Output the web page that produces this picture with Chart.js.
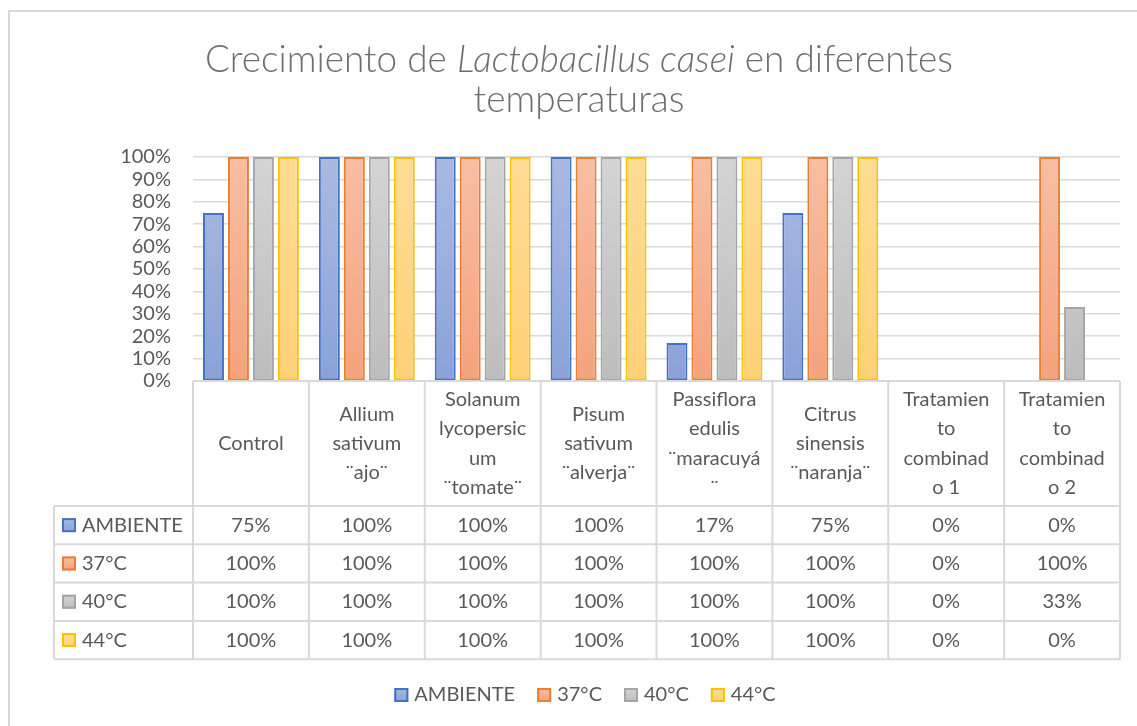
<!DOCTYPE html>
<html><head><meta charset="utf-8">
<script src="https://cdn.jsdelivr.net/npm/chart.js@4.4.0/dist/chart.umd.min.js"></script>
<style>html,body{margin:0;padding:0;background:#fff;}#wrap{width:1137px;height:726px;position:relative;}</style>
</head><body><div id="wrap"><canvas id="c" width="1137" height="726"></canvas></div>
<script>
const categories = [
  ["Control"],
  ["Allium","sativum","¨ajo¨"],
  ["Solanum","lycopersic","um","¨tomate¨"],
  ["Pisum","sativum","¨alverja¨"],
  ["Passiflora","edulis","¨maracuyá","¨"],
  ["Citrus","sinensis","¨naranja¨"],
  ["Tratamien","to","combinad","o 1"],
  ["Tratamien","to","combinad","o 2"]
];
const seriesNames = ["AMBIENTE","37°C","40°C","44°C"];
const ambiente = [75,100,100,100,17,75,0,0];
const t37 = [100,100,100,100,100,100,0,100];
const t40 = [100,100,100,100,100,100,0,33];
const t44 = [100,100,100,100,100,100,0,0];
const yTicks = [0,10,20,30,40,50,60,70,80,90,100];
const titleParts = [["Crecimiento de ",false],["Lactobacillus casei",true],[" en diferentes",false]];
const titleLine2 = "temperaturas";

const FONT = 'Lato, "Open Sans", sans-serif';
const TXT = '#595959';
const GRID = '#D9D9D9';
const styles = [
  {border:'#4472C4', top:'#AAB9E2', bot:'#8AA2D9'},
  {border:'#ED7D31', top:'#F8BEA3', bot:'#F4A37D'},
  {border:'#A5A5A5', top:'#D4D4D4', bot:'#BDBDBD'},
  {border:'#FFC000', top:'#FFDC95', bot:'#FFD177'}
];
const seriesData = [ambiente,t37,t40,t44];

function grad(ctx, s, y0, y1){
  const g = ctx.createLinearGradient(0, y0, 0, y1);
  g.addColorStop(0, s.top); g.addColorStop(1, s.bot);
  return g;
}

const datasets = seriesNames.map((n,i)=>({
  label:n,
  data:seriesData[i],
  borderColor:styles[i].border,
  borderWidth:(c)=> (c.raw===0?0:2),
  borderSkipped:false,
  backgroundColor:(c)=>{
    const a=c.chart.chartArea; if(!a) return styles[i].top;
    return grad(c.chart.ctx,styles[i],a.top,a.bottom);
  },
  categoryPercentage:0.862,
  barPercentage:0.84
}));

const drawPlugin = {
  id:'extras',
  afterDraw(chart){
    const ctx = chart.ctx, a = chart.chartArea, xs = chart.scales.x;
    ctx.save();
    ctx.strokeStyle = GRID; ctx.lineWidth = 2;
    ctx.beginPath(); ctx.moveTo(9,760); ctx.lineTo(9,11); ctx.lineTo(1160,11); ctx.stroke();

    // title
    const cx = 579;
    let size = 32;
    const fontFor = (it,sz)=> (it?'italic ':'') + '300 ' + sz + 'px ' + FONT;
    let w = 0;
    titleParts.forEach(p=>{ctx.font = fontFor(p[1],size); w += ctx.measureText(p[0]).width;});
    size = size * 748 / w;
    w = 0;
    titleParts.forEach(p=>{ctx.font = fontFor(p[1],size); w += ctx.measureText(p[0]).width;});
    ctx.fillStyle = '#6E6E6E'; ctx.textBaseline = 'alphabetic'; ctx.textAlign = 'left';
    let x = cx - w/2;
    titleParts.forEach(p=>{ctx.font = fontFor(p[1],size); ctx.fillText(p[0],x,72); x += ctx.measureText(p[0]).width;});
    ctx.font = fontFor(false,size); ctx.textAlign='center';
    ctx.fillText(titleLine2, cx, 112);

    // table
    const colW = (a.right - a.left)/categories.length;
    const top = a.bottom, headBot = 506, rowH = 38.3, labelLeft = 54;
    const rowsY = [headBot, headBot+rowH, headBot+2*rowH, headBot+3*rowH, headBot+4*rowH];
    ctx.strokeStyle = GRID; ctx.lineWidth = 2;
    ctx.beginPath();
    ctx.moveTo(a.left, top); ctx.lineTo(a.right, top);
    rowsY.forEach(y=>{ctx.moveTo(labelLeft,y); ctx.lineTo(a.right,y);});
    ctx.moveTo(labelLeft, headBot); ctx.lineTo(labelLeft, rowsY[4]);
    for(let i=0;i<=categories.length;i++){
      const xx = a.left + i*colW;
      ctx.moveTo(xx, top); ctx.lineTo(xx, rowsY[4]);
    }
    ctx.stroke();

    ctx.fillStyle = TXT; ctx.font = '20px ' + FONT; ctx.textAlign='center'; ctx.textBaseline='middle';
    const lh = 29.3;
    categories.forEach((lines,i)=>{
      const xc = xs.getPixelForValue(i);
      const mid = (top+headBot)/2;
      const y0 = mid - (lines.length-1)*lh/2;
      lines.forEach((t,j)=> ctx.fillText(t, xc, y0 + j*lh));
    });
    seriesData.forEach((arr,r)=>{
      const yc = rowsY[r] + rowH/2;
      arr.forEach((v,i)=>{ ctx.fillText(v+'%', xs.getPixelForValue(i), yc); });
      drawMarker(ctx, 62, yc-7, styles[r]);
      ctx.fillStyle = TXT;
      ctx.textAlign='left';
      ctx.fillText(seriesNames[r], 82, yc);
      ctx.textAlign='center';
    });

    // legend
    ctx.font = '20px ' + FONT; ctx.textAlign='left';
    const gap = 22, box = 14, bgap = 6;
    const widths = seriesNames.map(n=> box + bgap + ctx.measureText(n).width);
    const total = widths.reduce((s,v)=>s+v,0) + gap*(seriesNames.length-1);
    let lx = 585 - total/2;
    const ly = 695;
    seriesNames.forEach((n,i)=>{
      drawMarker(ctx, lx, ly-7, styles[i]);
      ctx.fillStyle = TXT;
      ctx.fillText(n, lx + box + bgap, ly);
      lx += widths[i] + gap;
    });
    ctx.restore();
  }
};
function drawMarker(ctx,x,y,s){
  ctx.save();
  ctx.fillStyle = grad(ctx,s,y,y+14);
  ctx.fillRect(x,y,14,14);
  ctx.strokeStyle = s.border; ctx.lineWidth = 2;
  ctx.strokeRect(x+1,y+1,12,12);
  ctx.restore();
}

new Chart(document.getElementById('c'), {
  type:'bar',
  data:{labels:categories.map(l=>l.join(' ')), datasets},
  options:{
    responsive:false, animation:false,
    layout:{padding:{top:157,bottom:345,left:0,right:17}},
    plugins:{legend:{display:false}, title:{display:false}, tooltip:{enabled:false}},
    scales:{
      x:{display:false, grid:{display:false}},
      y:{
        min:yTicks[0],max:yTicks[yTicks.length-1],
        afterFit(s){ s.width = 193; },
        afterBuildTicks(s){ s.ticks = yTicks.map(v=>({value:v})); },
        border:{display:false},
        grid:{color:GRID, lineWidth:1.5, drawTicks:false},
        ticks:{color:TXT, padding:22, autoSkip:false, stepSize:10, font:{family:FONT, size:20}, callback:(v)=>v+'%'}
      }
    }
  },
  plugins:[drawPlugin]
});
</script></body></html>
